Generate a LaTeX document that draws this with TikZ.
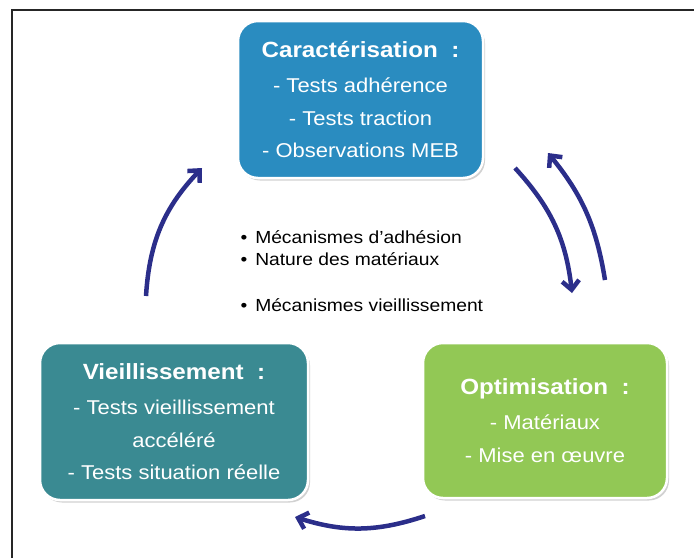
\documentclass[tikz,border=0pt]{standalone}
\usepackage{fontspec}
\setmainfont{Liberation Sans}[FakeStretch=1.1]
\usepackage{tikz}
\usetikzlibrary{arrows.meta, shadows}
\definecolor{cblue}{RGB}{42,140,192}
\definecolor{cteal}{RGB}{58,138,146}
\definecolor{cgreen}{RGB}{146,200,85}
\definecolor{cnavy}{RGB}{43,46,138}
\newcommand{\boxtitle}[1]{{\bfseries\fontsize{22pt}{26pt}\selectfont #1}}

\begin{document}
\begin{tikzpicture}[
  x=1pt, y=-1pt,
  stagebox/.style={draw=white, line width=2.5pt, rounded corners=20pt,
              text=white, align=center,
              font=\fontsize{20pt}{32.5pt}\selectfont,
              drop shadow={shadow xshift=2pt, shadow yshift=-2.5pt,
                           opacity=0.3, fill=black!60}},
  arr/.style={-{Straight Barb[length=9pt, width=17pt]}, line width=4.5pt,
              draw=cnavy},
  note/.style={align=left, anchor=north west,
               font=\fontsize{17.5pt}{22pt}\selectfont}
]
  \useasboundingbox (0,0) rectangle (694,558);

  % - Cadre -
  \draw[line width=2pt, black!85] (12,558) -- (12,9.5) -- (694,9.5);

  % - Les trois etapes -
  \node[stagebox, fill=cblue, minimum width=245pt, minimum height=157pt]
    (carac) at (360.5,99.5)
    {\boxtitle{Caractérisation~~:}\\[3pt]
     - Tests adhérence\\- Tests traction\\- Observations MEB};
  \node[stagebox, fill=cteal, minimum width=268pt, minimum height=157pt]
    (vieil) at (174,421.5)
    {\boxtitle{Vieillissement~~:}\\[3pt]
     - Tests vieillissement\\accéléré\\- Tests situation réelle};
  \node[stagebox, fill=cgreen, minimum width=244pt, minimum height=155pt]
    (optim) at (545,420.5)
    {\boxtitle{Optimisation~~:}\\[3pt]
     - Matériaux\\- Mise en œuvre};

  % - Texte central -
  \node[note] (meca) at (237,227)
    {•\hspace{8pt}Mécanismes d’adhésion\\
     •\hspace{8pt}Nature des matériaux\\[24pt]
     •\hspace{8pt}Mécanismes vieillissement};

  % - Points des fleches -
  \coordinate (v2c-a) at (146,296);
  \coordinate (v2c-b) at (202,168);
  \coordinate (c2o-a) at (515,168);
  \coordinate (c2o-b) at (572,293);
  \coordinate (o2c-a) at (605,280);
  \coordinate (o2c-b) at (548,153);
  \coordinate (o2v-a) at (425,516);
  \coordinate (o2v-b) at (295,517);

  % - Fleches -
  \draw[arr] (v2c-a) to[bend left=20] (v2c-b);
  \draw[arr] (c2o-a) to[bend left=18] (c2o-b);
  \draw[arr] (o2c-a) to[bend right=15] (o2c-b);
  \draw[arr] (o2v-a) to[bend left=18] (o2v-b);
\end{tikzpicture}
\end{document}
